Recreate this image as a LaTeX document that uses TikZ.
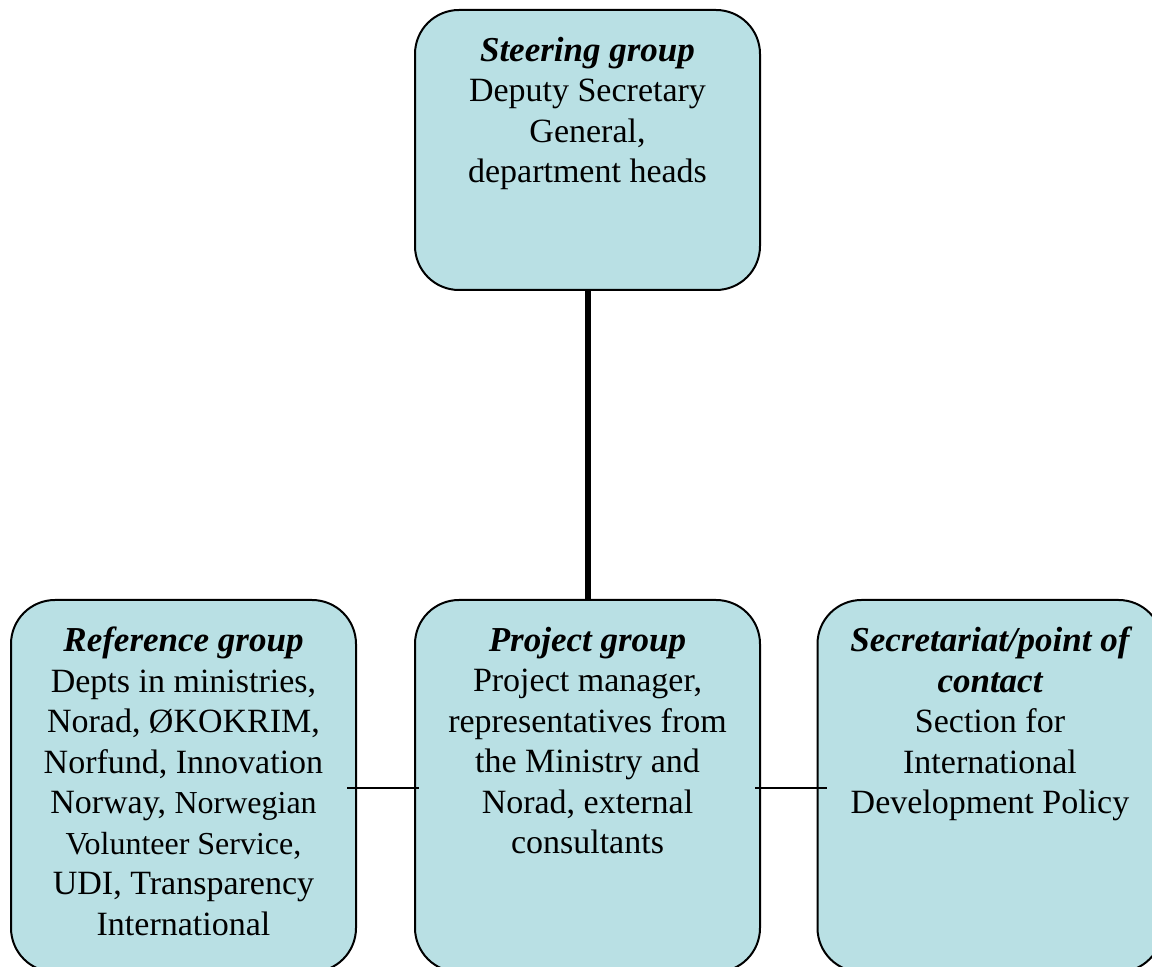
\documentclass[tikz,border=0pt]{standalone}
\usepackage{fontspec}
\setmainfont{Liberation Serif}
\usepackage{xcolor}
\usepackage{tikz}
\definecolor{boxcyan}{RGB}{185, 224, 228}
\newcommand{\grouptitle}[1]{{\fontsize{17.5}{20.25}\selectfont\bfseries\itshape #1}\\}
\newcommand{\grouptext}[2]{\parbox[c][#1][t]{166pt}{\centering\fontsize{17}{20.25}\selectfont\vspace*{13.5pt}#2}}

\begin{document}
\begin{tikzpicture}[x=0.5pt, y=-0.5pt]
    \tikzset{groupbox/.style={draw=black, line width=1pt, fill=boxcyan, rounded corners=22pt,
        inner sep=0pt, minimum width=172.5pt}}
    \useasboundingbox (0,0) rectangle (1152,967);
    \begin{scope}
    \clip (0,0) rectangle (1152,967);
    % top of the hierarchy
    \node[groupbox, minimum height=140pt] (steering) at (587.5,150) {\grouptext{140pt}{%
        \grouptitle{Steering group}
        Deputy Secretary\\ General,\\ department heads}};
    % bottom row
    \node[groupbox, minimum height=186pt] (project) at (587.5,786) {\grouptext{186pt}{%
        \grouptitle{Project group}
        Project manager,\\ representatives from\\ the Ministry and\\ Norad, external\\ consultants}};
    \node[groupbox, minimum height=186pt] (reference) at (183.5,786) {\grouptext{186pt}{%
        \grouptitle{Reference group}
        Depts in ministries,\\ Norad, ØKOKRIM,\\ Norfund, Innovation\\
        Norway, {\fontsize{16}{20.25}\selectfont Norwegian}\\
        {\fontsize{16}{20.25}\selectfont Volunteer Service,}\\
        UDI, Transparency\\ International}};
    \node[groupbox, minimum height=186pt] (secretariat) at (990,786) {\grouptext{186pt}{%
        \grouptitle{Secretariat/point of}
        \grouptitle{contact}
        Section for\\ International\\ Development Policy}};
    % connectors
    \draw[line width=3pt] (steering.south) -- (project.north);
    \draw[line width=1pt] ([xshift=-5pt, yshift=-1pt]reference.east) -- ([xshift=2.5pt, yshift=-1pt]project.west);
    \draw[line width=1pt] ([xshift=-3pt, yshift=-1pt]project.east) -- ([xshift=5pt, yshift=-1pt]secretariat.west);
    \end{scope}
\end{tikzpicture}
\end{document}
